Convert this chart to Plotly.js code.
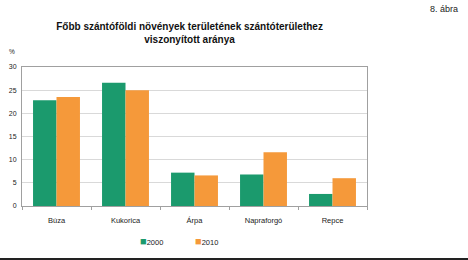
<!DOCTYPE html>
<html><head><meta charset="utf-8">
<script src="https://cdn.plot.ly/plotly-3.0.1.min.js"></script>
<style>html,body{margin:0;padding:0;background:#fff;}#c{width:468px;height:260px;}</style>
</head><body><div id="c"></div>
<script>
var categories = ["Búza", "Kukorica", "Árpa", "Napraforgó", "Repce"];
var series2000 = [22.8, 26.6, 7.2, 6.8, 2.6];
var series2010 = [23.5, 25.0, 6.6, 11.6, 6.0];
var seriesNames = ["2000", "2010"];
var yTicks = [0, 5, 10, 15, 20, 25, 30];

var font = "Liberation Sans, Arial, sans-serif";
var colors = ["#1b9a6d", "#f5993a"];
var data = [
  {type: "bar", x: categories, y: series2000, name: seriesNames[0], marker: {color: colors[0]}},
  {type: "bar", x: categories, y: series2010, name: seriesNames[1], marker: {color: colors[1]}}
];
var legendAnn = seriesNames.map(function(n, i) {
  return {text: '<span style="color:' + colors[i] + ';font-size:11px">■</span>' + n, xref: "paper", yref: "paper",
          x: [0.374, 0.534][i], y: -0.252, xanchor: "center", yanchor: "middle", showarrow: false,
          font: {size: 7.5, color: "#222"}};
});
var layout = {
  width: 468, height: 260,
  margin: {l: 22, r: 101, t: 67, b: 54},
  paper_bgcolor: "#fff", plot_bgcolor: "#fff",
  barmode: "group", bargap: 0.32, bargroupgap: 0,
  font: {family: font, size: 7, color: "#222"},
  title: {text: "<b>Főbb szántóföldi növények területének szántóterülethez<br>viszonyított aránya</b>",
          x: 0.405, xanchor: "center", y: 0.885, yanchor: "middle",
          font: {family: font, size: 10, color: "#111"}},
  xaxis: {type: "category", showline: true, linecolor: "#a0a0a0", linewidth: 1, mirror: true,
          ticks: "outside", tickson: "boundaries", ticklen: 3, tickcolor: "#a0a0a0",
          ticklabelstandoff: 7,
          tickfont: {size: 7.5, color: "#222"}, showgrid: false, fixedrange: true},
  yaxis: {range: [0, 30], tickvals: yTicks, showline: true, linecolor: "#a0a0a0", mirror: true,
          gridcolor: "#d9d9d9", gridwidth: 1, ticks: "", ticklen: 0, ticklabelstandoff: 3,
          tickfont: {size: 7, color: "#222"}, zeroline: false, fixedrange: true},
  showlegend: false,
  annotations: legendAnn.concat([
    {text: "8. ábra", xref: "paper", yref: "paper", x: 1.27, y: 1.42, xanchor: "right", yanchor: "middle",
     showarrow: false, font: {size: 9, color: "#222"}},
    {text: "%", xref: "paper", yref: "paper", x: -0.03, y: 1.115, xanchor: "center", yanchor: "middle",
     showarrow: false, font: {size: 6.5, color: "#222"}}
  ]),
  shapes: [
    {type: "line", xref: "paper", yref: "paper", x0: -0.07, x1: 1.3, y0: -0.381, y1: -0.381,
     line: {color: "#222", width: 2}}
  ]
};
Plotly.newPlot("c", data, layout, {displayModeBar: false, staticPlot: true});
</script></body></html>
